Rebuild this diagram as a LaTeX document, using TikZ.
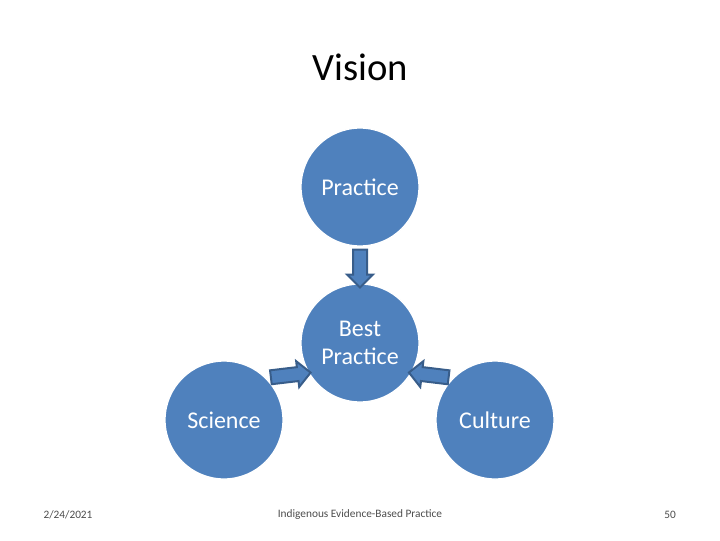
\documentclass[tikz,border=0pt]{standalone}
\usepackage{fontspec}
\setmainfont{Carlito}
\usetikzlibrary{shapes.arrows}
\definecolor{cfill}{HTML}{4F81BD}
\definecolor{cline}{HTML}{385D8A}
\begin{document}
\begin{tikzpicture}[x=0.75pt,y=-0.75pt,
  circ/.style={circle,fill=cfill,draw=white,line width=1pt,minimum size=118*0.75pt,inner sep=0pt,text=white,font=\fontsize{18}{21}\selectfont,align=center},
  barrow/.style={single arrow,fill=cfill,draw=cline,line width=1.5pt,inner sep=6*0.75pt,single arrow head extend=6*0.75pt,sloped,allow upside down,midway},
  foot/.style={font=\fontsize{8.5}{10}\selectfont,text=black!70}]
\useasboundingbox (0,0) rectangle (720,540);
\node (title) at (360,67) {\fontsize{29}{32}\selectfont Vision};
\node[circ] (pr) at (360,187) {Practice};
\node[circ] (bp) at (360,343) {Best\\Practice};
\node[circ] (sc) at (224,420) {Science};
\node[circ] (cu) at (495,420) {Culture};
\path (pr.south) -- (bp.north) node[barrow,minimum height=38*0.75pt] (a1) {};
\path (sc.45) -- (bp.210) node[barrow,minimum height=40*0.75pt] (a2) {};
\path (cu.135) -- (bp.330) node[barrow,minimum height=40*0.75pt] (a3) {};
\node[foot] (d) at (68,515) {2/24/2021};
\node[foot] (t) at (360,515) {Indigenous Evidence-Based Practice};
\node[foot] (n) at (670,515) {50};
\end{tikzpicture}
\end{document}
